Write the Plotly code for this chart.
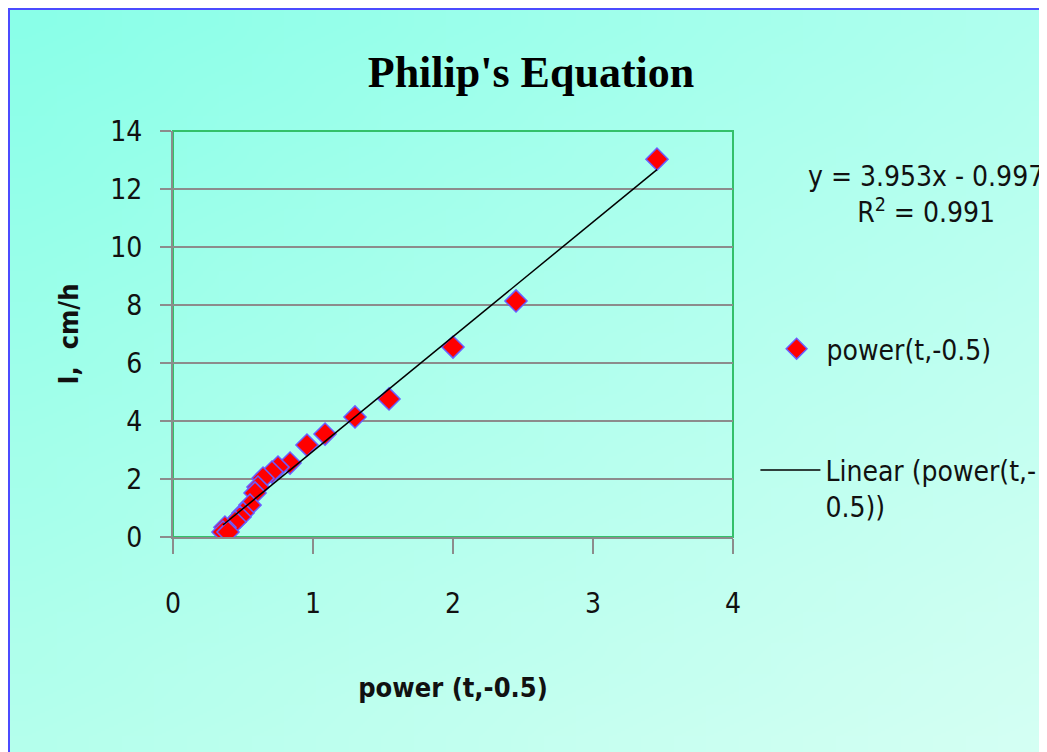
import base64
import struct
import zlib

import plotly.graph_objects as go

# readings: x = power(t,-0.5), y = I (cm/h)
x_vals = [3.457, 2.45, 2.0, 1.543, 1.30, 1.086, 0.957, 0.836, 0.75, 0.707,
          0.643, 0.607, 0.586, 0.55, 0.50, 0.479, 0.443, 0.371, 0.357, 0.393]
y_vals = [13.03, 8.14, 6.55, 4.76, 4.14, 3.55, 3.17, 2.55, 2.41, 2.24,
          2.03, 1.72, 1.52, 1.10, 0.83, 0.69, 0.52, 0.34, 0.17, 0.17]

slope = 3.953
intercept = -0.997
r_squared = 0.991

x_ticks = [0, 1, 2, 3, 4]
y_ticks = [0, 2, 4, 6, 8, 10, 12, 14]

W, H = 1039, 744          # page adds an 8px body margin
L, T, PW, PH = 165, 123, 560, 406


def gradient_png(w, h, c_tl, c_tr, c_bl, c_br):
    """Tiny bilinear gradient PNG as a data URI, used as the page background."""
    rows = b""
    for j in range(h):
        v = j / (h - 1)
        row = b"\x00"
        for i in range(w):
            u = i / (w - 1)
            px = [
                int(round((1 - u) * (1 - v) * a + u * (1 - v) * b + (1 - u) * v * c + u * v * d))
                for a, b, c, d in zip(c_tl, c_tr, c_bl, c_br)
            ]
            row += bytes(px)
        rows += row

    def chunk(tag, data):
        return struct.pack(">I", len(data)) + tag + data + struct.pack(">I", zlib.crc32(tag + data) & 0xFFFFFFFF)

    png = b"\x89PNG\r\n\x1a\n"
    png += chunk(b"IHDR", struct.pack(">IIBBBBB", w, h, 8, 2, 0, 0, 0))
    png += chunk(b"IDAT", zlib.compress(rows))
    png += chunk(b"IEND", b"")
    return "data:image/png;base64," + base64.b64encode(png).decode()


bg = gradient_png(32, 24, (138, 255, 232), (176, 255, 238), (180, 255, 236), (212, 255, 243))

tick_font = dict(family="DejaVu Sans Condensed, Open Sans, sans-serif", size=28, color="#111111")
bold_font = dict(family="DejaVu Sans Condensed, Open Sans, sans-serif", size=27, color="#111111")

x_line = [min(x_vals), max(x_vals)]
y_line = [slope * v + intercept for v in x_line]

fig = go.Figure()
fig.add_trace(go.Scatter(
    x=x_vals, y=y_vals, mode="markers", name="power(t,-0.5)",
    marker=dict(symbol="diamond", size=17, color="#FF0000", line=dict(color="#6A5CFF", width=1.5)),
    legend="legend", showlegend=True,
))
fig.add_trace(go.Scatter(
    x=x_line, y=y_line, mode="lines", name="Linear (power(t,-<br>0.5))",
    line=dict(color="#000000", width=1.5),
    legend="legend2", showlegend=True,
))

fig.update_layout(
    width=W, height=H,
    showlegend=True,
    margin=dict(l=L, r=W - L - PW, t=T, b=H - T - PH, autoexpand=False),
    paper_bgcolor="#B0FFEE",
    plot_bgcolor="#CCFF99",
    title=dict(text="<b>Philip's Equation</b>", x=523 / W, xanchor="center",
               y=1 - 64 / H, yanchor="middle",
               font=dict(family="Liberation Serif, Times New Roman, serif", size=44, color="#000000")),
    xaxis=dict(range=[0, 4], tickvals=x_ticks, showgrid=False, zeroline=False,
               showline=True, linecolor="#8C8C8C", linewidth=2,
               ticks="outside", ticklen=15, tickcolor="#8C8C8C", tickwidth=2,
               tickfont=tick_font, ticklabelstandoff=25,
               title=dict(text="<b>power (t,-0.5)</b>", font=bold_font, standoff=60)),
    yaxis=dict(range=[0, 14], tickvals=y_ticks, showgrid=True, gridcolor="#8C8C8C", gridwidth=2,
               zeroline=False, showline=True, linecolor="#8C8C8C", linewidth=2,
               ticks="outside", ticklen=11, tickcolor="#8C8C8C", tickwidth=2,
               tickfont=tick_font, ticklabelstandoff=12,
               title=dict(text="<b>I,  cm/h</b>", font=bold_font, standoff=24)),
    legend=dict(x=1.06, y=0.463, xanchor="left", yanchor="middle", bgcolor="rgba(0,0,0,0)",
                font=tick_font, itemwidth=50, visible=True),
    legend2=dict(x=1.04, y=0.226, xanchor="left", yanchor="top", bgcolor="rgba(0,0,0,0)",
                 font=tick_font, itemwidth=60, valign="top", visible=True),
    images=[dict(source=bg, xref="paper", yref="paper", x=-L / PW, y=1 + T / PH,
                 sizex=W / PW, sizey=H / PH, sizing="stretch", layer="below",
                 xanchor="left", yanchor="top")],
    shapes=[
        dict(type="rect", xref="paper", yref="paper", x0=0, x1=1, y0=0, y1=1,
             line=dict(color="#33C06A", width=2), layer="below"),
        dict(type="rect", xref="paper", yref="paper",
             x0=-(L - 1) / PW, x1=1 + 340 / PW, y0=-240 / PH, y1=1 + (T - 1) / PH,
             line=dict(color="#4B4BFF", width=2)),
    ],
    annotations=[dict(
        text=f"y = {slope}x - {abs(intercept)}<br>R<sup>2</sup> = {r_squared}",
        xref="paper", yref="paper", x=(926 - 173) / PW, y=(537 - 194) / PH,
        xanchor="center", yanchor="middle", showarrow=False, align="center",
        font=tick_font,
    )],
)

fig.write_html("out.html")
